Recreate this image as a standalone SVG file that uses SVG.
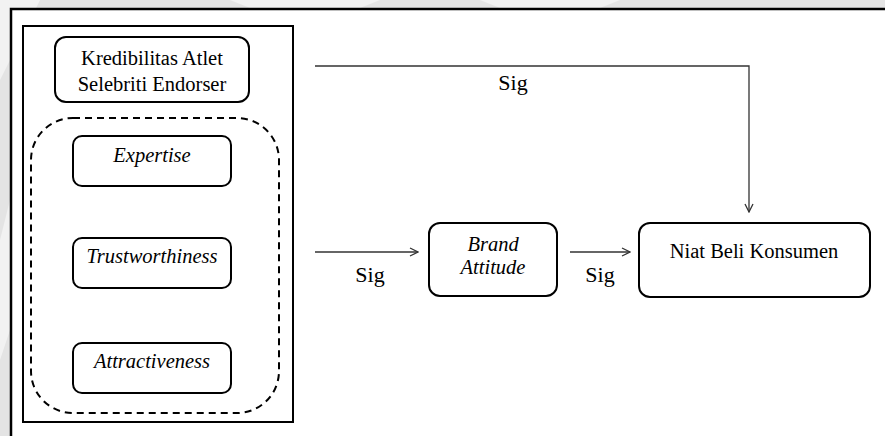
<svg xmlns="http://www.w3.org/2000/svg" width="885" height="436" viewBox="0 0 885 436">
<defs>
<style>
.box{fill:#fff;stroke:#000;stroke-width:2}
.t{font-family:"Liberation Serif","Times New Roman",serif;font-size:20.5px;fill:#000;text-anchor:middle}
.i{font-style:italic}
.sig{font-family:"Liberation Serif","Times New Roman",serif;font-size:22px;fill:#000;text-anchor:middle}
.ln{fill:none;stroke:#333;stroke-width:1.3}
</style>
<marker id="ah" viewBox="0 0 10 10" refX="9" refY="5" markerWidth="10" markerHeight="10" markerUnits="userSpaceOnUse" orient="auto">
<path d="M1,1 L9,5 L1,9" fill="none" stroke="#333" stroke-width="1.3"/>
</marker>
</defs>
<rect x="0" y="0" width="885" height="436" fill="#e4e4e4"/>
<path d="M0,0 L40,0 L10,60 L0,80 Z" fill="#f2f2f2"/>
<path d="M0,240 L10,200 L10,330 L0,360 Z" fill="#f2f2f2"/>
<path d="M230,0 L380,0 L360,8 L250,8 Z" fill="#f2f2f2"/>
<path d="M480,0 L620,0 L600,8 L500,8 Z" fill="#f2f2f2"/>
<rect x="11" y="9" width="880" height="440" fill="#fff"/>
<path d="M11,436 L11,9 L885,9" fill="none" stroke="#000" stroke-width="2.5"/>
<g id="container">
<rect x="23" y="26" width="270" height="396" fill="#fff" stroke="#000" stroke-width="2"/>
</g>
<g id="kredibilitas">
<rect class="box" x="55" y="37" width="194" height="65" rx="11"/>
<text class="t" x="152" y="65">Kredibilitas Atlet</text>
<text class="t" x="152" y="91">Selebriti Endorser</text>
</g>
<g id="dimensions">
<rect x="31" y="118" width="248" height="295" rx="42" fill="none" stroke="#000" stroke-width="2" stroke-dasharray="7,5"/>
</g>
<g id="expertise">
<rect class="box" x="73" y="136" width="158" height="50" rx="9"/>
<text class="t i" x="152" y="162">Expertise</text>
</g>
<g id="trustworthiness">
<rect class="box" x="73" y="238" width="158" height="50" rx="9"/>
<text class="t i" x="152" y="263">Trustworthiness</text>
</g>
<g id="attractiveness">
<rect class="box" x="73" y="343" width="158" height="50" rx="9"/>
<text class="t i" x="152" y="368">Attractiveness</text>
</g>
<g id="brand-attitude">
<rect class="box" x="429" y="223" width="128" height="73" rx="11"/>
<text class="t i" x="493" y="251">Brand</text>
<text class="t i" x="493" y="274">Attitude</text>
</g>
<g id="niat-beli">
<rect class="box" x="639" y="223" width="231" height="74" rx="11"/>
<text class="t" x="754" y="258">Niat Beli Konsumen</text>
</g>
<g id="connectors">
<path class="ln" d="M315,66 L749,66 L749,212" marker-end="url(#ah)"/>
<path class="ln" d="M315,252 L418,252" marker-end="url(#ah)"/>
<path class="ln" d="M570,252 L630,252" marker-end="url(#ah)"/>
<text class="sig" x="513" y="90">Sig</text>
<text class="sig" x="370" y="282">Sig</text>
<text class="sig" x="600" y="282">Sig</text>
</g>
</svg>
